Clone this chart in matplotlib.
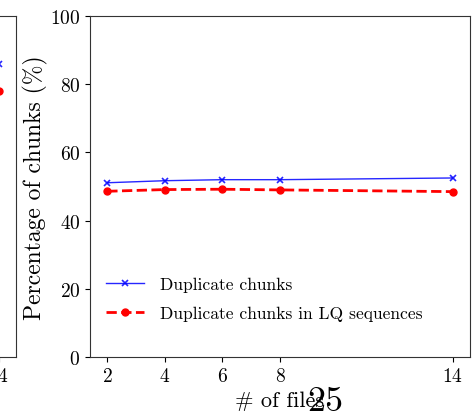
import matplotlib
matplotlib.use('Agg')
import matplotlib.pyplot as plt

plt.rcParams['font.family'] = 'cmr10'
plt.rcParams['mathtext.fontset'] = 'cm'
plt.rcParams['axes.formatter.use_mathtext'] = True

# data
files = [2, 4, 6, 8, 14]
dup_chunks = [51.1, 51.7, 52.0, 52.0, 52.5]
dup_lq = [48.6, 49.1, 49.2, 49.0, 48.5]

# neighbouring panel (only its right edge is visible)
left_x = [14]
left_dup = [86]
left_lq = [78]

W, H = 476, 414
fig = plt.figure(figsize=(W / 100, H / 100), dpi=100)

def box(l, r, t, b):
    return [l / W, 1 - b / H, (r - l) / W, (b - t) / H]

# main panel
ax = fig.add_axes(box(90, 470, 17, 358))
ax.plot(files, dup_chunks, color='blue', lw=1, marker='x', ms=5, mew=1.2,
        label='Duplicate chunks', alpha=0.85)
ax.plot(files, dup_lq, color='red', lw=2, ls='--', marker='o', ms=5,
        label='Duplicate chunks in LQ sequences')
ax.set_ylim(0, 100)
ax.set_xticks(files)
ax.set_yticks([0, 20, 40, 60, 80, 100])
ax.set_xlabel('# of files', fontsize=16, labelpad=4)
ax.set_ylabel('Percentage of chunks (%)', fontsize=17, labelpad=1)
ax.tick_params(labelsize=14)
ax.legend(loc='lower left', frameon=False, fontsize=12.6, bbox_to_anchor=(0.0, 0.06),
          labelspacing=0.75, handlelength=2.2, handletextpad=0.9)

# left panel, mostly out of frame
ax2 = fig.add_axes(box(-364, 16, 17, 358))
ax2.plot(left_x, left_dup, color='blue', lw=1, marker='x', ms=5, mew=1.2, alpha=0.85)
ax2.plot(left_x, left_lq, color='red', lw=2, ls='--', marker='o', ms=5)
ax2.set_xlim(1.4, 14.6)
ax2.set_ylim(0, 100)
ax2.set_xticks([14])
ax2.set_yticks([])
ax2.tick_params(labelsize=14)

for a in (ax, ax2):
    for s in a.spines.values():
        s.set_color('#333333')

# page number
fig.text(325 / W, 1 - 402 / H, '25', fontsize=26, ha='center', va='center')

fig.savefig('out.png', dpi=100)
